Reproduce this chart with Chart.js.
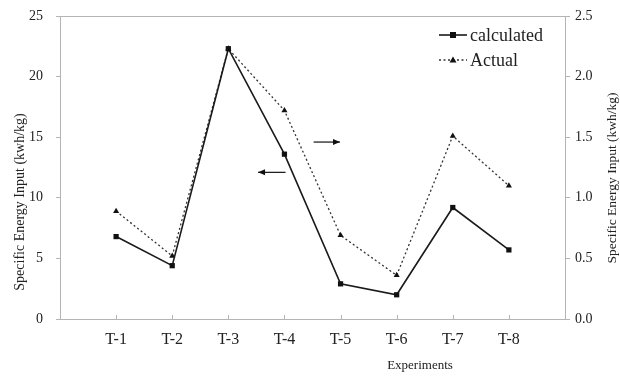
<!DOCTYPE html>
<html>
<head>
<meta charset="utf-8">
<script src="https://cdn.jsdelivr.net/npm/chart.js@4/dist/chart.umd.min.js"></script>
<style>
  body { margin: 0; background: #fff; }
  canvas { display: block; }
</style>
</head>
<body>
<canvas id="chart" width="620" height="377"></canvas>
<script>
const xLabels = ['T-1', 'T-2', 'T-3', 'T-4', 'T-5', 'T-6', 'T-7', 'T-8'];
const calculated = [6.8, 4.4, 22.3, 13.6, 2.9, 2.0, 9.2, 5.7];   // left axis
const actual = [0.89, 0.52, 2.23, 1.72, 0.69, 0.36, 1.51, 1.1];  // right axis
const leftTicks = [0, 5, 10, 15, 20, 25];
const rightTicks = [0, 0.5, 1.0, 1.5, 2.0, 2.5];
const yTitle = 'Specific Energy Input (kwh/kg)';
const xTitle = 'Experiments';

const SERIF = '"Liberation Serif", "Times New Roman", serif';
const INK = '#222';
const AXIS = '#b4b4b4';

const toPoints = arr => arr.map((v, i) => ({ x: i + 1, y: v }));

// extra drawing: frame top, inner x ticks, arrows, legend, axis titles
const extras = {
  id: 'extras',
  afterDatasetsDraw(chart) {
    const { ctx, chartArea: ca, scales } = chart;
    const x = scales.x, y = scales.y, y2 = scales.y2;
    ctx.save();

    // top edge of the frame
    ctx.strokeStyle = AXIS;
    ctx.lineWidth = 1;
    ctx.beginPath();
    ctx.moveTo(ca.left, ca.top + 0.5);
    ctx.lineTo(ca.right, ca.top + 0.5);
    ctx.stroke();

    // small inner ticks on the x axis
    xLabels.forEach((_, i) => {
      const px = Math.round(x.getPixelForValue(i + 1)) + 0.5;
      ctx.beginPath();
      ctx.moveTo(px, ca.bottom);
      ctx.lineTo(px, ca.bottom - 4);
      ctx.stroke();
    });

    // arrows pointing at the axis each series uses
    const arrow = (x0, x1, py) => {
      ctx.strokeStyle = '#111';
      ctx.fillStyle = '#111';
      ctx.lineWidth = 1.2;
      ctx.beginPath();
      ctx.moveTo(x0, py);
      ctx.lineTo(x1, py);
      ctx.stroke();
      const dir = Math.sign(x1 - x0);
      ctx.beginPath();
      ctx.moveTo(x1, py);
      ctx.lineTo(x1 - dir * 7, py - 3);
      ctx.lineTo(x1 - dir * 7, py + 3);
      ctx.closePath();
      ctx.fill();
    };
    arrow(x.getPixelForValue(4.02), x.getPixelForValue(3.53), y.getPixelForValue(12.1));
    arrow(x.getPixelForValue(4.52), x.getPixelForValue(4.99), y2.getPixelForValue(1.46));

    // legend
    const lx = ca.right - 126, ly = ca.top + 19;
    chart.data.datasets.forEach((ds, i) => {
      const yy = ly + i * 25;
      ctx.strokeStyle = ds.borderColor;
      ctx.lineWidth = ds.borderWidth;
      ctx.setLineDash(ds.borderDash || []);
      ctx.beginPath();
      ctx.moveTo(lx, yy);
      ctx.lineTo(lx + 28, yy);
      ctx.stroke();
      ctx.setLineDash([]);
      ctx.fillStyle = ds.pointBackgroundColor;
      if (ds.pointStyle === 'rect') {
        ctx.fillRect(lx + 11, yy - 3, 6, 6);
      } else {
        ctx.beginPath();
        ctx.moveTo(lx + 14, yy - 3.5);
        ctx.lineTo(lx + 17.5, yy + 2.5);
        ctx.lineTo(lx + 10.5, yy + 2.5);
        ctx.closePath();
        ctx.fill();
      }
      ctx.fillStyle = INK;
      ctx.font = '18px ' + SERIF;
      ctx.textAlign = 'left';
      ctx.textBaseline = 'middle';
      ctx.fillText(ds.label, lx + 31, yy + 1);
    });

    // axis titles
    ctx.fillStyle = INK;
    ctx.font = '13px ' + SERIF;
    ctx.textAlign = 'center';
    ctx.textBaseline = 'middle';
    ctx.fillText(xTitle, 420, 366);

    ctx.font = '14px ' + SERIF;
    ctx.save();
    ctx.translate(20, 202);
    ctx.rotate(-Math.PI / 2);
    ctx.fillText(yTitle, 0, 0);
    ctx.restore();
    ctx.font = '13.5px ' + SERIF;
    ctx.save();
    ctx.translate(612, 178);
    ctx.rotate(-Math.PI / 2);
    ctx.fillText(yTitle, 0, 0);
    ctx.restore();

    ctx.restore();
  }
};

new Chart(document.getElementById('chart'), {
  type: 'line',
  data: {
    datasets: [
      {
        label: 'calculated',
        data: toPoints(calculated),
        yAxisID: 'y',
        borderColor: '#1a1a1a',
        borderWidth: 1.6,
        pointStyle: 'rect',
        pointRadius: 3.7,
        pointBackgroundColor: '#111',
        pointBorderColor: '#111',
        pointBorderWidth: 0,
        tension: 0
      },
      {
        label: 'Actual',
        data: toPoints(actual),
        yAxisID: 'y2',
        borderColor: '#333',
        borderWidth: 1.3,
        borderDash: [2, 2.5],
        pointStyle: 'triangle',
        pointRadius: 3.5,
        pointBackgroundColor: '#111',
        pointBorderColor: '#111',
        pointBorderWidth: 0,
        tension: 0
      }
    ]
  },
  options: {
    responsive: false,
    animation: false,
    devicePixelRatio: 1,
    layout: { padding: { top: 16, left: 0, right: 0, bottom: 0 } },
    plugins: { legend: { display: false }, tooltip: { enabled: false } },
    scales: {
      x: {
        type: 'linear',
        min: 0,
        max: xLabels.length + 1,
        afterBuildTicks: s => { s.ticks = xLabels.map((_, i) => ({ value: i + 1 })); },
        afterFit: s => { s.height = 58; s.paddingLeft = 0; s.paddingRight = 0; },
        grid: { display: false },
        border: { display: true, color: AXIS, width: 1 },
        ticks: {
          color: INK,
          font: { family: SERIF, size: 16 },
          padding: 3,
          maxRotation: 0,
          callback: v => xLabels[v - 1] || ''
        }
      },
      y: {
        position: 'left',
        min: 0,
        max: 25,
        afterBuildTicks: s => { s.ticks = leftTicks.map(v => ({ value: v })); },
        afterFit: s => { s.width = 60; s.paddingTop = 0; s.paddingBottom = 0; },
        grid: { display: true, drawOnChartArea: false, drawTicks: true, tickLength: 4, color: AXIS },
        border: { display: true, color: AXIS, width: 1 },
        ticks: {
          color: INK,
          font: { family: SERIF, size: 14 },
          padding: 13
        }
      },
      y2: {
        position: 'right',
        min: 0,
        max: 2.5,
        afterBuildTicks: s => { s.ticks = rightTicks.map(v => ({ value: v })); },
        afterFit: s => { s.width = 55; s.paddingTop = 0; s.paddingBottom = 0; },
        grid: { display: true, drawOnChartArea: false, drawTicks: true, tickLength: 5, color: AXIS },
        border: { display: true, color: AXIS, width: 1 },
        ticks: {
          color: INK,
          font: { family: SERIF, size: 14 },
          padding: 5,
          callback: v => v.toFixed(1)
        }
      }
    }
  },
  plugins: [extras]
});
</script>
</body>
</html>
